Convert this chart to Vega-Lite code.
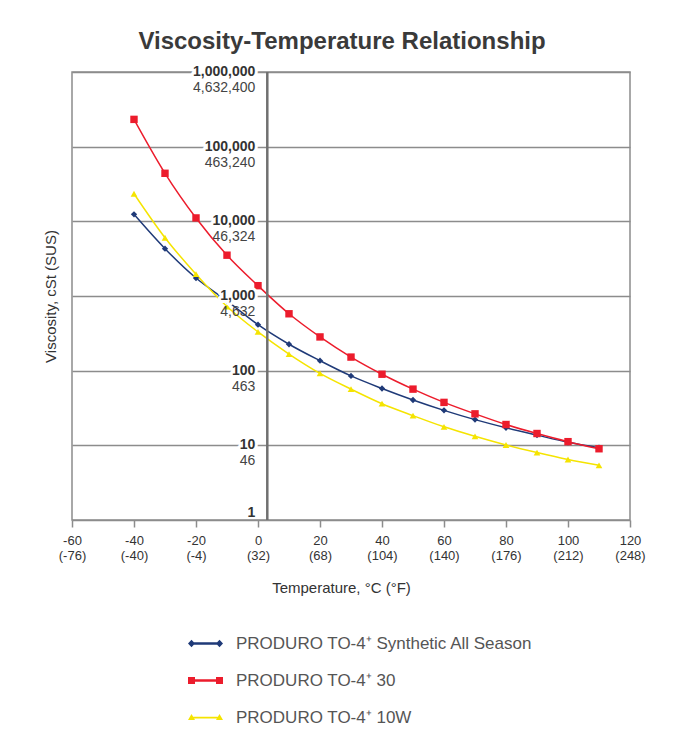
{
  "$schema": "https://vega.github.io/schema/vega-lite/v6.json",
  "width": 558,
  "height": 448,
  "autosize": {"type": "none"},
  "padding": {"left": 72, "top": 72, "right": 48, "bottom": 224},
  "background": "white",
  "title": {
    "text": "Viscosity-Temperature Relationship",
    "font": "Liberation Sans Narrow, Liberation Sans, sans-serif",
    "fontSize": 24,
    "fontWeight": "bold",
    "color": "#3a3a3a",
    "anchor": "middle",
    "dx": -9,
    "offset": 11
  },
  "config": {
    "view": {"stroke": "#8c8c8c", "strokeWidth": 1.5}
  },
  "datasets": {
    "oil": [
      {"s": "PRODURO TO-4⁺ Synthetic All Season", "t": -40, "v": 12400},
      {"s": "PRODURO TO-4⁺ Synthetic All Season", "t": -30, "v": 4300},
      {"s": "PRODURO TO-4⁺ Synthetic All Season", "t": -20, "v": 1740},
      {"s": "PRODURO TO-4⁺ Synthetic All Season", "t": -10, "v": 860},
      {"s": "PRODURO TO-4⁺ Synthetic All Season", "t": 0, "v": 413},
      {"s": "PRODURO TO-4⁺ Synthetic All Season", "t": 10, "v": 226},
      {"s": "PRODURO TO-4⁺ Synthetic All Season", "t": 20, "v": 136},
      {"s": "PRODURO TO-4⁺ Synthetic All Season", "t": 30, "v": 85},
      {"s": "PRODURO TO-4⁺ Synthetic All Season", "t": 40, "v": 57.7},
      {"s": "PRODURO TO-4⁺ Synthetic All Season", "t": 50, "v": 40.5},
      {"s": "PRODURO TO-4⁺ Synthetic All Season", "t": 60, "v": 29.4},
      {"s": "PRODURO TO-4⁺ Synthetic All Season", "t": 70, "v": 22.1},
      {"s": "PRODURO TO-4⁺ Synthetic All Season", "t": 80, "v": 17.2},
      {"s": "PRODURO TO-4⁺ Synthetic All Season", "t": 90, "v": 13.7},
      {"s": "PRODURO TO-4⁺ Synthetic All Season", "t": 100, "v": 11.0},
      {"s": "PRODURO TO-4⁺ Synthetic All Season", "t": 110, "v": 9.3},
      {"s": "PRODURO TO-4⁺ 30", "t": -40, "v": 232000},
      {"s": "PRODURO TO-4⁺ 30", "t": -30, "v": 44000},
      {"s": "PRODURO TO-4⁺ 30", "t": -20, "v": 11100},
      {"s": "PRODURO TO-4⁺ 30", "t": -10, "v": 3520},
      {"s": "PRODURO TO-4⁺ 30", "t": 0, "v": 1375},
      {"s": "PRODURO TO-4⁺ 30", "t": 10, "v": 578},
      {"s": "PRODURO TO-4⁺ 30", "t": 20, "v": 283},
      {"s": "PRODURO TO-4⁺ 30", "t": 30, "v": 152},
      {"s": "PRODURO TO-4⁺ 30", "t": 40, "v": 89.6},
      {"s": "PRODURO TO-4⁺ 30", "t": 50, "v": 56.6},
      {"s": "PRODURO TO-4⁺ 30", "t": 60, "v": 37.6},
      {"s": "PRODURO TO-4⁺ 30", "t": 70, "v": 26.4},
      {"s": "PRODURO TO-4⁺ 30", "t": 80, "v": 19.0},
      {"s": "PRODURO TO-4⁺ 30", "t": 90, "v": 14.4},
      {"s": "PRODURO TO-4⁺ 30", "t": 100, "v": 11.2},
      {"s": "PRODURO TO-4⁺ 30", "t": 110, "v": 9.0},
      {"s": "PRODURO TO-4⁺ 10W", "t": -40, "v": 23400},
      {"s": "PRODURO TO-4⁺ 10W", "t": -30, "v": 6030},
      {"s": "PRODURO TO-4⁺ 10W", "t": -20, "v": 1960},
      {"s": "PRODURO TO-4⁺ 10W", "t": -10, "v": 723},
      {"s": "PRODURO TO-4⁺ 10W", "t": 0, "v": 330},
      {"s": "PRODURO TO-4⁺ 10W", "t": 10, "v": 167},
      {"s": "PRODURO TO-4⁺ 10W", "t": 20, "v": 92},
      {"s": "PRODURO TO-4⁺ 10W", "t": 30, "v": 56.6},
      {"s": "PRODURO TO-4⁺ 10W", "t": 40, "v": 36.1},
      {"s": "PRODURO TO-4⁺ 10W", "t": 50, "v": 25.0},
      {"s": "PRODURO TO-4⁺ 10W", "t": 60, "v": 17.7},
      {"s": "PRODURO TO-4⁺ 10W", "t": 70, "v": 13.2},
      {"s": "PRODURO TO-4⁺ 10W", "t": 80, "v": 10.1},
      {"s": "PRODURO TO-4⁺ 10W", "t": 90, "v": 8.0},
      {"s": "PRODURO TO-4⁺ 10W", "t": 100, "v": 6.46},
      {"s": "PRODURO TO-4⁺ 10W", "t": 110, "v": 5.4}
    ],
    "ylab": [
      {"v": 1, "cst": "1", "sus": ""},
      {"v": 10, "cst": "10", "sus": "46"},
      {"v": 100, "cst": "100", "sus": "463"},
      {"v": 1000, "cst": "1,000", "sus": "4,632"},
      {"v": 10000, "cst": "10,000", "sus": "46,324"},
      {"v": 100000, "cst": "100,000", "sus": "463,240"},
      {"v": 1000000, "cst": "1,000,000", "sus": "4,632,400"}
    ]
  },
  "layer": [
    {
      "data": {"name": "oil"},
      "mark": {"type": "line", "strokeWidth": 1.5, "interpolate": "monotone"},
      "encoding": {
        "x": {
          "field": "t", "type": "quantitative",
          "scale": {"domain": [-60, 120], "nice": false, "zero": false},
          "axis": {
            "orient": "bottom",
            "values": [-60, -40, -20, 0, 20, 40, 60, 80, 100, 120],
            "domain": false,
            "grid": false,
            "ticks": true,
            "tickColor": "#8c8c8c",
            "tickWidth": 1.5,
            "tickSize": 7,
            "labelExpr": "['' + datum.value, '(' + (datum.value * 9 / 5 + 32) + ')']",
            "labelFont": "Liberation Sans Narrow, Liberation Sans, sans-serif",
            "labelFontSize": 13,
            "labelColor": "#333333",
            "labelPadding": 7,
            "labelLineHeight": 15,
            "labelFlush": false,
            "labelOverlap": false,
            "title": "Temperature, °C (°F)",
            "titleFont": "Liberation Sans Narrow, Liberation Sans, sans-serif",
            "titleFontSize": 15,
            "titleFontWeight": "normal",
            "titleColor": "#333333",
            "titlePadding": 18,
            "titleX": 269
          }
        },
        "y": {
          "field": "v", "type": "quantitative",
          "scale": {"type": "log", "domain": [1, 1000000], "nice": false},
          "axis": {
            "values": [1, 10, 100, 1000, 10000, 100000, 1000000],
            "grid": true,
            "gridColor": "#8c8c8c",
            "gridWidth": 1.5,
            "labels": false,
            "ticks": false,
            "domain": false,
            "title": "Viscosity, cSt (SUS)",
            "titleFont": "Liberation Sans Narrow, Liberation Sans, sans-serif",
            "titleFontSize": 15,
            "titleFontWeight": "normal",
            "titleColor": "#333333",
            "titlePadding": 14
          }
        },
        "color": {
          "field": "s", "type": "nominal", "title": null,
          "scale": {
            "domain": ["PRODURO TO-4⁺ Synthetic All Season", "PRODURO TO-4⁺ 30", "PRODURO TO-4⁺ 10W"],
            "range": ["#1f3a78", "#ec1c2c", "#f5e400"]
          }
        }
      }
    },
    {
      "data": {"name": "ylab"},
      "transform": [{"filter": "datum.v == 1"}],
      "mark": {"type": "rule", "stroke": "#707070", "strokeWidth": 2.5},
      "encoding": {"x": {"datum": 3}}
    },
    {
      "data": {"name": "oil"},
      "transform": [{"filter": "datum.s == 'PRODURO TO-4⁺ Synthetic All Season'"}],
      "mark": {"type": "point", "shape": "diamond", "filled": true, "size": 40, "opacity": 1, "color": "#1f3a78"},
      "encoding": {
        "x": {"field": "t", "type": "quantitative"},
        "y": {"field": "v", "type": "quantitative"}
      }
    },
    {
      "data": {"name": "oil"},
      "transform": [{"filter": "datum.s == 'PRODURO TO-4⁺ 30'"}],
      "mark": {"type": "point", "shape": "square", "filled": true, "size": 55, "opacity": 1, "color": "#ec1c2c"},
      "encoding": {
        "x": {"field": "t", "type": "quantitative"},
        "y": {"field": "v", "type": "quantitative"}
      }
    },
    {
      "data": {"name": "oil"},
      "transform": [{"filter": "datum.s == 'PRODURO TO-4⁺ 10W'"}],
      "mark": {"type": "point", "shape": "triangle-up", "filled": true, "size": 45, "opacity": 1, "color": "#f5e400"},
      "encoding": {
        "x": {"field": "t", "type": "quantitative"},
        "y": {"field": "v", "type": "quantitative"}
      }
    },
    {
      "data": {"name": "oil"},
      "mark": {"type": "point", "filled": true, "opacity": 0},
      "encoding": {
        "x": {"field": "t", "type": "quantitative"},
        "y": {"field": "v", "type": "quantitative"},
        "color": {
          "field": "s", "type": "nominal", "title": null,
          "legend": {
            "orient": "none",
            "legendX": 116,
            "legendY": 554,
            "padding": 0,
            "symbolSize": 1225,
            "symbolStrokeWidth": 0,
            "symbolOpacity": 1,
            "labelFont": "Liberation Sans, sans-serif",
            "labelFontSize": 17,
            "labelColor": "#555555",
            "labelOffset": 13,
            "labelLimit": 500,
            "rowPadding": 11
          }
        },
        "shape": {
          "field": "s", "type": "nominal", "title": null,
          "scale": {
            "domain": ["PRODURO TO-4⁺ Synthetic All Season", "PRODURO TO-4⁺ 30", "PRODURO TO-4⁺ 10W"],
            "range": [
              "M-1,0L-0.8,-0.22L-0.6,0L-0.8,0.22Z M0.6,0L0.8,-0.22L1,0L0.8,0.22Z M-0.8,-0.065H0.8V0.065H-0.8Z",
              "M-1,-0.2H-0.6V0.2H-1Z M0.6,-0.2H1V0.2H0.6Z M-0.6,-0.07H0.6V0.07H-0.6Z",
              "M-1,0.14L-0.8,-0.2L-0.6,0.14Z M0.6,0.14L0.8,-0.2L1,0.14Z M-0.8,-0.05H0.8V0.06H-0.8Z"
            ]
          },
          "legend": {
            "orient": "none",
            "legendX": 116,
            "legendY": 554,
            "padding": 0,
            "symbolSize": 1225,
            "symbolStrokeWidth": 0,
            "symbolOpacity": 1,
            "labelFont": "Liberation Sans, sans-serif",
            "labelFontSize": 17,
            "labelColor": "#555555",
            "labelOffset": 13,
            "labelLimit": 500,
            "rowPadding": 11
          }
        }
      }
    },
    {
      "data": {"name": "ylab"},
      "transform": [{"filter": "datum.v > 1"}],
      "mark": {"type": "text", "align": "right", "baseline": "middle", "dx": -12, "fontSize": 14, "fontWeight": "bold", "fill": "white", "stroke": "white", "strokeWidth": 6, "strokeJoin": "round"},
      "encoding": {
        "x": {"datum": 3},
        "y": {"field": "v", "type": "quantitative"},
        "text": {"field": "cst"}
      }
    },
    {
      "data": {"name": "ylab"},
      "transform": [{"filter": "datum.v > 1"}],
      "mark": {"type": "text", "align": "right", "baseline": "middle", "dx": -12, "fontSize": 14, "fontWeight": "bold", "fill": "#333333"},
      "encoding": {
        "x": {"datum": 3},
        "y": {"field": "v", "type": "quantitative"},
        "text": {"field": "cst"}
      }
    },
    {
      "data": {"name": "ylab"},
      "transform": [{"filter": "datum.v == 1"}],
      "mark": {"type": "text", "align": "right", "baseline": "alphabetic", "dx": -12, "dy": -3, "fontSize": 14, "fontWeight": "bold", "fill": "#333333"},
      "encoding": {
        "x": {"datum": 3},
        "y": {"field": "v", "type": "quantitative"},
        "text": {"field": "cst"}
      }
    },
    {
      "data": {"name": "ylab"},
      "mark": {"type": "text", "align": "right", "baseline": "middle", "dx": -12, "dy": 16, "fontSize": 14, "fill": "#444444"},
      "encoding": {
        "x": {"datum": 3},
        "y": {"field": "v", "type": "quantitative"},
        "text": {"field": "sus"}
      }
    }
  ]
}
